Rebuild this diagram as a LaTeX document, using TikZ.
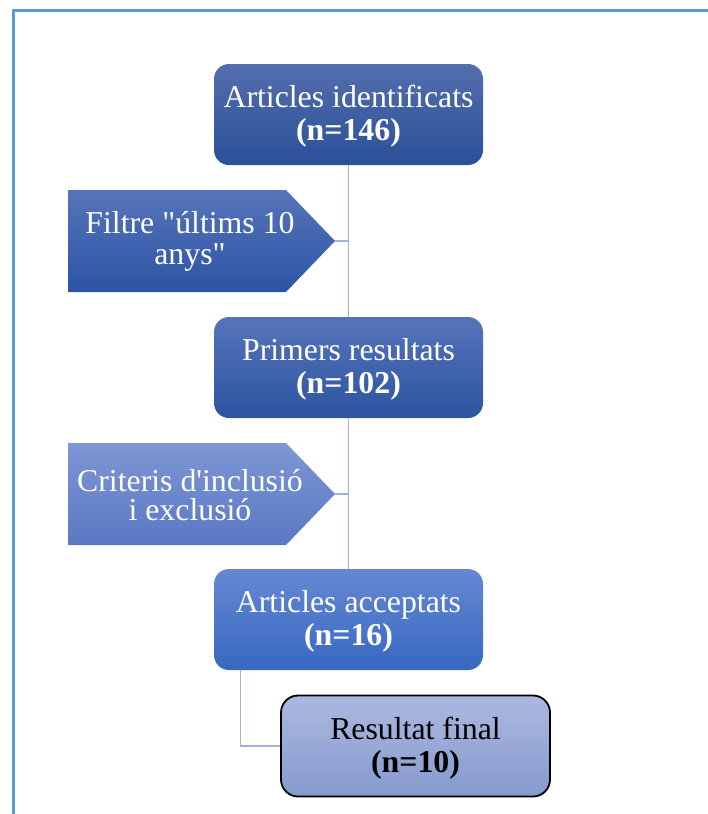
\documentclass[tikz,border=0pt]{standalone}
\usepackage{fontspec}
\setmainfont{Liberation Serif}[Ligatures=TeXOff]
\usetikzlibrary{calc}
\definecolor{frameblue}{RGB}{91,155,213}
\definecolor{connblue}{RGB}{160,176,224}
\definecolor{aTop}{RGB}{84,110,174}
\definecolor{aBot}{RGB}{42,80,152}
\definecolor{bTop}{RGB}{86,116,186}
\definecolor{bBot}{RGB}{44,84,160}
\definecolor{cTop}{RGB}{102,136,210}
\definecolor{cBot}{RGB}{55,104,194}
\definecolor{pTop}{RGB}{86,116,186}
\definecolor{pBot}{RGB}{44,84,164}
\definecolor{qTop}{RGB}{126,150,212}
\definecolor{qBot}{RGB}{90,120,196}
\definecolor{dTop}{RGB}{172,184,224}
\definecolor{dBot}{RGB}{134,154,206}
\newcommand{\lowstrut}{\rule{0pt}{26pt}}
\begin{document}
\begin{tikzpicture}[x=1pt,y=-1pt,
  box/.style={rounded corners=15pt, minimum width=269pt, minimum height=101pt,
    inner sep=0pt, align=center, text=white,
    font=\fontsize{31.8}{33}\selectfont},
  finalbox/.style={box, text=black, draw=black, line width=1.8pt, rounded corners=17pt},
  pent/.style={inner sep=0pt, align=center, text=white},
  conn/.style={draw=connblue, line width=1.3pt}]
\useasboundingbox (0,0) rectangle (707,814);
% outer frame
\draw[frameblue, line width=2.5pt] (13.3,820) -- (13.3,10.3) -- (712,10.3);

\coordinate (f1tip) at (335,241);
\coordinate (f2tip) at (335,494);

% main boxes
\node[box, top color=aTop, bottom color=aBot] (a1) at (348.5,114.5)
  {\lowstrut Articles identificats\\\textbf{(n=146)}};
\node[box, top color=bTop, bottom color=bBot] (a2) at (348.5,367.5)
  {\lowstrut Primers resultats\\\textbf{(n=102)}};
\node[box, top color=cTop, bottom color=cBot] (a3) at (348.5,619.5)
  {\lowstrut Articles acceptats\\\textbf{(n=16)}};
\node[finalbox, top color=dTop, bottom color=dBot] (a4) at (415.5,746)
  {\lowstrut Resultat final\\\textbf{(n=10)}};

% pentagons
\shade[top color=pTop, bottom color=pBot] (68,190) -- (286,190) -- (f1tip) -- (286,292) -- (68,292) -- cycle;
\node[pent, font=\fontsize{31.8}{31}\selectfont] (f1) at (190,241)
  {Filtre "últims 10\\anys"};
\shade[top color=qTop, bottom color=qBot] (68,443) -- (286,443) -- (f2tip) -- (286,545) -- (68,545) -- cycle;
\node[pent, font=\fontsize{31.8}{29}\selectfont] (f2) at (190,495)
  {Criteris d'inclusió\\i exclusió};

% connector lines
\draw[conn] (a1.south) -- (a2.north);
\draw[conn] (a2.south) -- (a3.north);
\draw[conn] (f1tip) -- (f1tip -| a1.south);
\draw[conn] (f2tip) -- (f2tip -| a2.south);
\coordinate (a3out) at ($(a3.south west)!0.1!(a3.south east)$);
\draw[conn] (a3out) |- (a4.west);
\end{tikzpicture}
\end{document}
